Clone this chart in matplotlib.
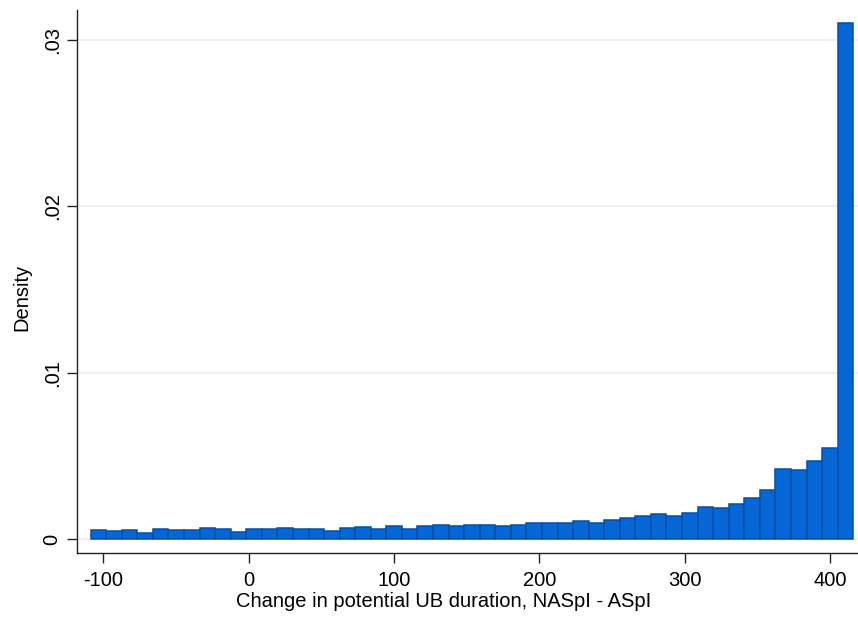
import numpy as np
import matplotlib
matplotlib.use("Agg")
import matplotlib.pyplot as plt

plt.rcParams['font.family'] = ['Liberation Sans', 'DejaVu Sans']
plt.rcParams['axes.unicode_minus'] = False

# histogram: 49 equal bins of the change in potential duration
bin_lo = -108.7
bin_hi = 416.0
density = [0.00055, 0.00050, 0.00055, 0.00038, 0.00060, 0.00056, 0.00056,
           0.00068, 0.00060, 0.00042, 0.00060, 0.00058, 0.00068, 0.00063,
           0.00063, 0.00050, 0.00065, 0.00070, 0.00062, 0.00077, 0.00060,
           0.00078, 0.00086, 0.00078, 0.00083, 0.00082, 0.00076, 0.00086,
           0.00094, 0.00096, 0.00096, 0.00108, 0.00096, 0.00112, 0.00128,
           0.00140, 0.00152, 0.00140, 0.00156, 0.00192, 0.00188, 0.00210,
           0.00248, 0.00296, 0.00420, 0.00416, 0.00470, 0.00547, 0.03100]
xticks = [-100, 0, 100, 200, 300, 400]
yticks = [0, 0.01, 0.02, 0.03]
ytick_labels = ['0', '.01', '.02', '.03']

edges = np.linspace(bin_lo, bin_hi, len(density) + 1)

fig = plt.figure(figsize=(8.58, 6.18), dpi=100)
W, H = 858, 618
ax = fig.add_axes([77 / W, (H - 553) / H, (858 - 77) / W, (553 - 10) / H])

ax.bar(edges[:-1], density, width=np.diff(edges), align='edge',
       color='#0567d6', edgecolor='#0650a2', linewidth=1.1, zorder=2)

ax.set_xlim(-118.1, 419.3)
ax.set_ylim(-0.00084, 0.0318)

fs = 14.5
ax.set_xticks(xticks)
ax.set_yticks(yticks)
ax.set_yticklabels(ytick_labels, rotation=90, va='center')
ax.tick_params(axis='both', labelsize=fs, length=7, width=1, color='#222222', direction='out')
ax.tick_params(axis='y', pad=4)
ax.tick_params(axis='x', pad=6)

ax.yaxis.grid(True, color='#eaf0f3', linewidth=1.4)
ax.set_axisbelow(True)

for s in ['top', 'right']:
    ax.spines[s].set_visible(False)
for s in ['left', 'bottom']:
    ax.spines[s].set_color('#222222')
    ax.spines[s].set_linewidth(1.0)

ax.set_xlabel('Change in potential UB duration, NASpI - ASpI', fontsize=fs)
ax.xaxis.set_label_coords(0.47, -0.071)
ax.set_ylabel('Density', fontsize=fs)
ax.yaxis.set_label_coords(-0.058, 0.471)

fig.savefig('out.png', dpi=100)
